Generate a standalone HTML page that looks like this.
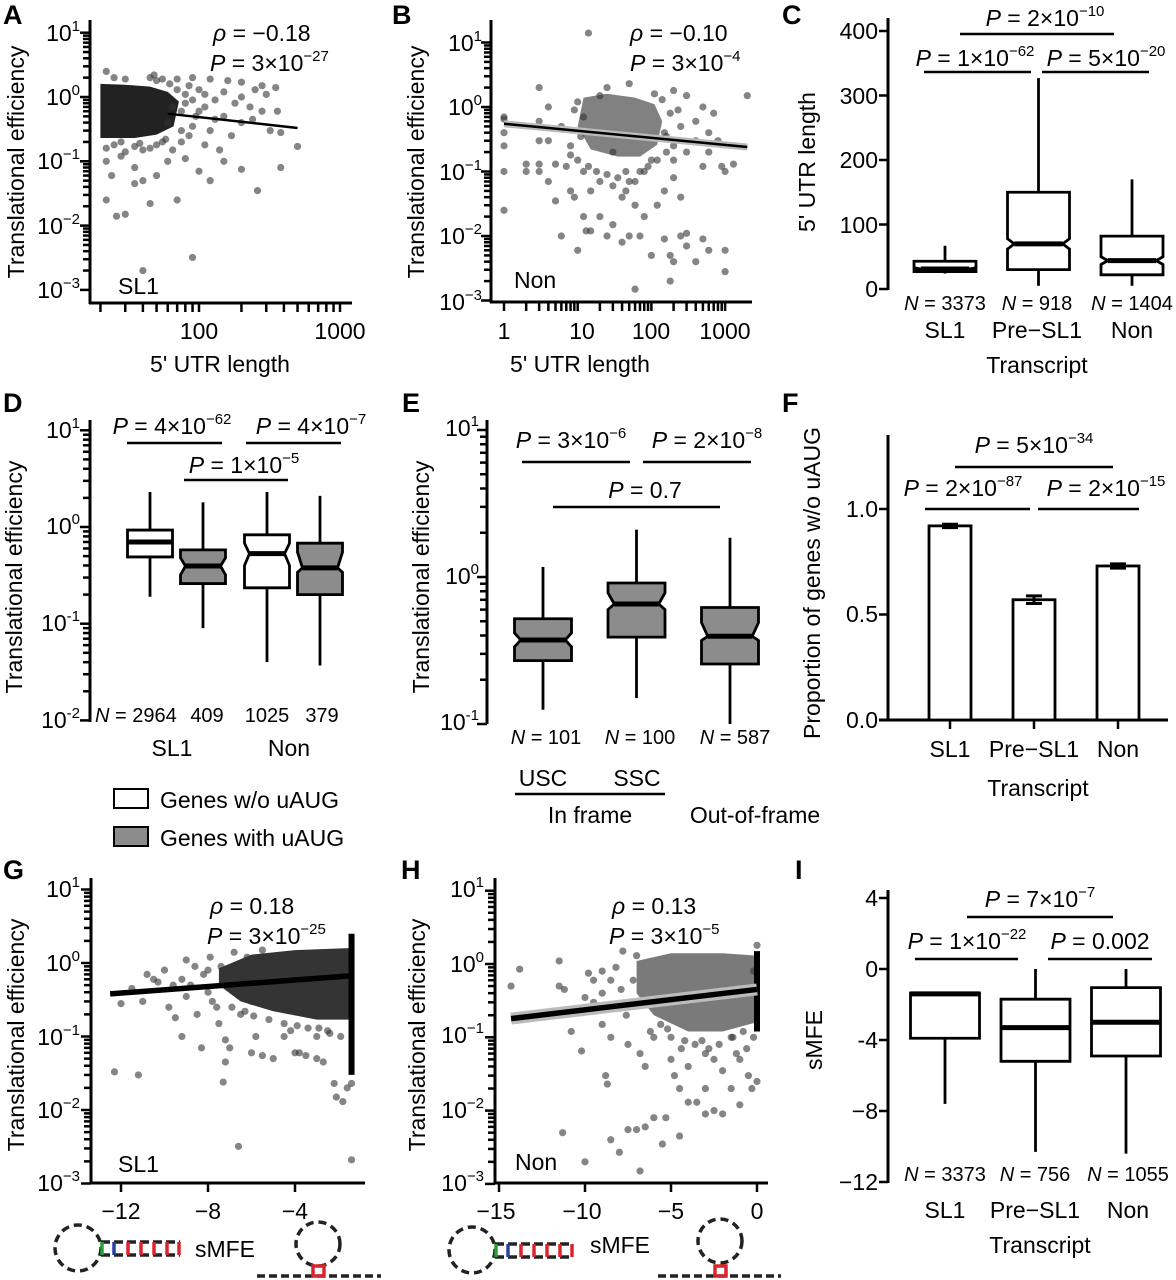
<!DOCTYPE html>
<html><head><meta charset="utf-8"><style>
html,body{margin:0;padding:0;background:#fff}
svg{display:block}
text{font-family:"Liberation Sans",Arial,sans-serif;fill:#000}
.t{font-size:23px}.s{font-size:20px}.b{font-size:27px;font-weight:bold}
.sup{font-size:15px}
</style></head><body>
<svg id="fig" width="1176" height="1280" viewBox="0 0 1176 1280" xmlns="http://www.w3.org/2000/svg">
<g id="txt">
<!-- Panel A -->
<text class="b" x="3" y="24">A</text>
<text class="t" x="80" y="41" text-anchor="end">10<tspan class="sup" dy="-10">1</tspan></text>
<text class="t" x="80" y="105" text-anchor="end">10<tspan class="sup" dy="-10">0</tspan></text>
<text class="t" x="80" y="169" text-anchor="end">10<tspan class="sup" dy="-10">−1</tspan></text>
<text class="t" x="80" y="234" text-anchor="end">10<tspan class="sup" dy="-10">−2</tspan></text>
<text class="t" x="80" y="298" text-anchor="end">10<tspan class="sup" dy="-10">−3</tspan></text>
<text class="t" x="199" y="339" text-anchor="middle">100</text>
<text class="t" x="340" y="339" text-anchor="middle">1000</text>
<text class="t" x="220" y="372" text-anchor="middle">5' UTR length</text>
<text class="t" transform="translate(24,162) rotate(-90)" text-anchor="middle">Translational efficiency</text>
<text class="t" x="213" y="41"><tspan font-style="italic">ρ</tspan> = −0.18</text>
<text class="t" x="210" y="71"><tspan font-style="italic">P</tspan> = 3×10<tspan class="sup" dy="-10">−27</tspan></text>
<text class="t" x="118" y="294">SL1</text>
<!-- Panel B -->
<text class="b" x="392" y="24">B</text>
<text class="t" x="482" y="51" text-anchor="end">10<tspan class="sup" dy="-10">1</tspan></text>
<text class="t" x="482" y="115" text-anchor="end">10<tspan class="sup" dy="-10">0</tspan></text>
<text class="t" x="482" y="180" text-anchor="end">10<tspan class="sup" dy="-10">−1</tspan></text>
<text class="t" x="482" y="244" text-anchor="end">10<tspan class="sup" dy="-10">−2</tspan></text>
<text class="t" x="482" y="310" text-anchor="end">10<tspan class="sup" dy="-10">−3</tspan></text>
<text class="t" x="504" y="339" text-anchor="middle">1</text>
<text class="t" x="582" y="339" text-anchor="middle">10</text>
<text class="t" x="651" y="339" text-anchor="middle">100</text>
<text class="t" x="725" y="339" text-anchor="middle">1000</text>
<text class="t" x="580" y="372" text-anchor="middle">5' UTR length</text>
<text class="t" transform="translate(424,162) rotate(-90)" text-anchor="middle">Translational efficiency</text>
<text class="t" x="630" y="41"><tspan font-style="italic">ρ</tspan> = −0.10</text>
<text class="t" x="630" y="71"><tspan font-style="italic">P</tspan> = 3×10<tspan class="sup" dy="-10">−4</tspan></text>
<text class="t" x="514" y="288">Non</text>
<!-- Panel C -->
<text class="b" x="782" y="24">C</text>
<text class="t" x="878" y="39" text-anchor="end">400</text>
<text class="t" x="878" y="104" text-anchor="end">300</text>
<text class="t" x="878" y="168" text-anchor="end">200</text>
<text class="t" x="878" y="233" text-anchor="end">100</text>
<text class="t" x="878" y="297" text-anchor="end">0</text>
<text class="t" x="1045" y="26" text-anchor="middle"><tspan font-style="italic">P</tspan> = 2×10<tspan class="sup" dy="-10">−10</tspan></text>
<text class="t" x="975" y="66" text-anchor="middle"><tspan font-style="italic">P</tspan> = 1×10<tspan class="sup" dy="-10">−62</tspan></text>
<text class="t" x="1106" y="66" text-anchor="middle"><tspan font-style="italic">P</tspan> = 5×10<tspan class="sup" dy="-10">−20</tspan></text>
<text class="t" transform="translate(815,162) rotate(-90)" text-anchor="middle">5' UTR length</text>
<text class="s" x="945" y="310" text-anchor="middle"><tspan font-style="italic">N</tspan> = 3373</text>
<text class="s" x="1037" y="310" text-anchor="middle"><tspan font-style="italic">N</tspan> = 918</text>
<text class="s" x="1132" y="310" text-anchor="middle"><tspan font-style="italic">N</tspan> = 1404</text>
<text class="t" x="945" y="338" text-anchor="middle">SL1</text>
<text class="t" x="1037" y="338" text-anchor="middle">Pre−SL1</text>
<text class="t" x="1132" y="338" text-anchor="middle">Non</text>
<text class="t" x="1037" y="373" text-anchor="middle">Transcript</text>
<!-- Panel D -->
<text class="b" x="3" y="412">D</text>
<text class="t" x="80" y="438" text-anchor="end">10<tspan class="sup" dy="-10">1</tspan></text>
<text class="t" x="80" y="534" text-anchor="end">10<tspan class="sup" dy="-10">0</tspan></text>
<text class="t" x="80" y="631" text-anchor="end">10<tspan class="sup" dy="-10">-1</tspan></text>
<text class="t" x="80" y="728" text-anchor="end">10<tspan class="sup" dy="-10">-2</tspan></text>
<text class="t" transform="translate(22,577) rotate(-90)" text-anchor="middle">Translational efficiency</text>
<text class="t" x="172" y="434" text-anchor="middle"><tspan font-style="italic">P</tspan> = 4×10<tspan class="sup" dy="-10">−62</tspan></text>
<text class="t" x="311" y="434" text-anchor="middle"><tspan font-style="italic">P</tspan> = 4×10<tspan class="sup" dy="-10">−7</tspan></text>
<text class="t" x="244" y="473" text-anchor="middle"><tspan font-style="italic">P</tspan> = 1×10<tspan class="sup" dy="-10">−5</tspan></text>
<text class="s" x="95" y="722"><tspan font-style="italic">N</tspan> = 2964</text>
<text class="s" x="207" y="722" text-anchor="middle">409</text>
<text class="s" x="267" y="722" text-anchor="middle">1025</text>
<text class="s" x="322" y="722" text-anchor="middle">379</text>
<text class="t" x="172" y="756" text-anchor="middle">SL1</text>
<text class="t" x="289" y="756" text-anchor="middle">Non</text>
<rect x="114" y="789" width="34" height="19" fill="#fff" stroke="#000" stroke-width="2"/>
<text class="t" x="160" y="808">Genes w/o uAUG</text>
<rect x="114" y="827" width="34" height="19" fill="#8c8c8c" stroke="#000" stroke-width="2"/>
<text class="t" x="160" y="846">Genes with uAUG</text>
<!-- Panel E -->
<text class="b" x="402" y="412">E</text>
<text class="t" x="479" y="436" text-anchor="end">10<tspan class="sup" dy="-10">1</tspan></text>
<text class="t" x="479" y="584" text-anchor="end">10<tspan class="sup" dy="-10">0</tspan></text>
<text class="t" x="479" y="730" text-anchor="end">10<tspan class="sup" dy="-10">-1</tspan></text>
<text class="t" transform="translate(429,577) rotate(-90)" text-anchor="middle">Translational efficiency</text>
<text class="t" x="571" y="448" text-anchor="middle"><tspan font-style="italic">P</tspan> = 3×10<tspan class="sup" dy="-10">−6</tspan></text>
<text class="t" x="707" y="448" text-anchor="middle"><tspan font-style="italic">P</tspan> = 2×10<tspan class="sup" dy="-10">−8</tspan></text>
<text class="t" x="645" y="498" text-anchor="middle"><tspan font-style="italic">P</tspan> = 0.7</text>
<text class="s" x="546" y="744" text-anchor="middle"><tspan font-style="italic">N</tspan> = 101</text>
<text class="s" x="640" y="744" text-anchor="middle"><tspan font-style="italic">N</tspan> = 100</text>
<text class="s" x="735" y="744" text-anchor="middle"><tspan font-style="italic">N</tspan> = 587</text>
<text class="t" x="543" y="786" text-anchor="middle">USC</text>
<text class="t" x="637" y="786" text-anchor="middle">SSC</text>
<line x1="515" y1="794" x2="665" y2="794" stroke="#000" stroke-width="2.5"/>
<text class="t" x="590" y="823" text-anchor="middle">In frame</text>
<text class="t" x="755" y="823" text-anchor="middle">Out-of-frame</text>
<!-- Panel F -->
<text class="b" x="782" y="412">F</text>
<text class="t" x="878" y="517" text-anchor="end">1.0</text>
<text class="t" x="878" y="622" text-anchor="end">0.5</text>
<text class="t" x="878" y="728" text-anchor="end">0.0</text>
<text class="t" transform="translate(820,583) rotate(-90)" text-anchor="middle">Proportion of genes w/o uAUG</text>
<text class="t" x="1034" y="453" text-anchor="middle"><tspan font-style="italic">P</tspan> = 5×10<tspan class="sup" dy="-10">−34</tspan></text>
<text class="t" x="963" y="496" text-anchor="middle"><tspan font-style="italic">P</tspan> = 2×10<tspan class="sup" dy="-10">−87</tspan></text>
<text class="t" x="1106" y="496" text-anchor="middle"><tspan font-style="italic">P</tspan> = 2×10<tspan class="sup" dy="-10">−15</tspan></text>
<text class="t" x="950" y="757" text-anchor="middle">SL1</text>
<text class="t" x="1034" y="757" text-anchor="middle">Pre−SL1</text>
<text class="t" x="1118" y="757" text-anchor="middle">Non</text>
<text class="t" x="1038" y="796" text-anchor="middle">Transcript</text>
<!-- Panel G -->
<text class="b" x="3" y="879">G</text>
<text class="t" x="80" y="897" text-anchor="end">10<tspan class="sup" dy="-10">1</tspan></text>
<text class="t" x="80" y="971" text-anchor="end">10<tspan class="sup" dy="-10">0</tspan></text>
<text class="t" x="80" y="1045" text-anchor="end">10<tspan class="sup" dy="-10">−1</tspan></text>
<text class="t" x="80" y="1118" text-anchor="end">10<tspan class="sup" dy="-10">−2</tspan></text>
<text class="t" x="80" y="1191" text-anchor="end">10<tspan class="sup" dy="-10">−3</tspan></text>
<text class="t" transform="translate(24,1035) rotate(-90)" text-anchor="middle">Translational efficiency</text>
<text class="t" x="210" y="914"><tspan font-style="italic">ρ</tspan> = 0.18</text>
<text class="t" x="207" y="944"><tspan font-style="italic">P</tspan> = 3×10<tspan class="sup" dy="-10">−25</tspan></text>
<text class="t" x="118" y="1172">SL1</text>
<text class="t" x="121" y="1219" text-anchor="middle">−12</text>
<text class="t" x="208" y="1219" text-anchor="middle">−8</text>
<text class="t" x="295" y="1219" text-anchor="middle">−4</text>
<text class="t" x="225" y="1257" text-anchor="middle">sMFE</text>
<!-- Panel H -->
<text class="b" x="401" y="879">H</text>
<text class="t" x="484" y="897" text-anchor="end">10<tspan class="sup" dy="-10">1</tspan></text>
<text class="t" x="484" y="972" text-anchor="end">10<tspan class="sup" dy="-10">0</tspan></text>
<text class="t" x="484" y="1043" text-anchor="end">10<tspan class="sup" dy="-10">−1</tspan></text>
<text class="t" x="484" y="1118" text-anchor="end">10<tspan class="sup" dy="-10">−2</tspan></text>
<text class="t" x="484" y="1191" text-anchor="end">10<tspan class="sup" dy="-10">−3</tspan></text>
<text class="t" transform="translate(425,1035) rotate(-90)" text-anchor="middle">Translational efficiency</text>
<text class="t" x="612" y="914"><tspan font-style="italic">ρ</tspan> = 0.13</text>
<text class="t" x="609" y="944"><tspan font-style="italic">P</tspan> = 3×10<tspan class="sup" dy="-10">−5</tspan></text>
<text class="t" x="515" y="1170">Non</text>
<text class="t" x="496" y="1219" text-anchor="middle">−15</text>
<text class="t" x="582" y="1219" text-anchor="middle">−10</text>
<text class="t" x="671" y="1219" text-anchor="middle">−5</text>
<text class="t" x="757" y="1219" text-anchor="middle">0</text>
<text class="t" x="620" y="1253" text-anchor="middle">sMFE</text>
<!-- Panel I -->
<text class="b" x="795" y="879">I</text>
<text class="t" x="878" y="906" text-anchor="end">4</text>
<text class="t" x="878" y="977" text-anchor="end">0</text>
<text class="t" x="878" y="1048" text-anchor="end">-4</text>
<text class="t" x="878" y="1119" text-anchor="end">−8</text>
<text class="t" x="878" y="1190" text-anchor="end">−12</text>
<text class="t" transform="translate(822,1040) rotate(-90)" text-anchor="middle">sMFE</text>
<text class="t" x="1040" y="907" text-anchor="middle"><tspan font-style="italic">P</tspan> = 7×10<tspan class="sup" dy="-10">−7</tspan></text>
<text class="t" x="967" y="949" text-anchor="middle"><tspan font-style="italic">P</tspan> = 1×10<tspan class="sup" dy="-10">−22</tspan></text>
<text class="t" x="1100" y="949" text-anchor="middle"><tspan font-style="italic">P</tspan> = 0.002</text>
<text class="s" x="945" y="1181" text-anchor="middle"><tspan font-style="italic">N</tspan> = 3373</text>
<text class="s" x="1035" y="1181" text-anchor="middle"><tspan font-style="italic">N</tspan> = 756</text>
<text class="s" x="1128" y="1181" text-anchor="middle"><tspan font-style="italic">N</tspan> = 1055</text>
<text class="t" x="945" y="1218" text-anchor="middle">SL1</text>
<text class="t" x="1035" y="1218" text-anchor="middle">Pre−SL1</text>
<text class="t" x="1128" y="1218" text-anchor="middle">Non</text>
<text class="t" x="1040" y="1253" text-anchor="middle">Transcript</text>
</g>
<!-- structure icons -->
<g stroke-width="3.5" fill="none">
<circle cx="78" cy="1248" r="23" stroke="#222" stroke-dasharray="8 5"/>
<line x1="101" y1="1242" x2="180" y2="1242" stroke="#222" stroke-dasharray="9 4"/>
<line x1="101" y1="1255" x2="180" y2="1255" stroke="#222" stroke-dasharray="9 4"/>
<line x1="102" y1="1242" x2="102" y2="1255" stroke="#2a9d3a"/>
<line x1="114" y1="1242" x2="114" y2="1255" stroke="#2b3fa0"/>
<line x1="128" y1="1242" x2="128" y2="1255" stroke="#d8262c"/>
<line x1="141" y1="1242" x2="141" y2="1255" stroke="#d8262c"/>
<line x1="154" y1="1242" x2="154" y2="1255" stroke="#d8262c"/>
<line x1="167" y1="1242" x2="167" y2="1255" stroke="#d8262c"/>
<line x1="179" y1="1242" x2="179" y2="1255" stroke="#d8262c"/>
</g>
<g stroke-width="3.5" fill="none">
<circle cx="318" cy="1244" r="22" stroke="#222" stroke-dasharray="8 5"/>
<line x1="257" y1="1276" x2="381" y2="1276" stroke="#222" stroke-dasharray="8 4"/>
<rect x="313" y="1266" width="11" height="10" stroke="#d8262c"/>
</g>
<g stroke-width="3.5" fill="none">
<circle cx="472" cy="1250" r="23" stroke="#222" stroke-dasharray="8 5"/>
<line x1="495" y1="1244" x2="573" y2="1244" stroke="#222" stroke-dasharray="9 4"/>
<line x1="495" y1="1257" x2="573" y2="1257" stroke="#222" stroke-dasharray="9 4"/>
<line x1="496" y1="1244" x2="496" y2="1257" stroke="#2a9d3a"/>
<line x1="508" y1="1244" x2="508" y2="1257" stroke="#2b3fa0"/>
<line x1="521" y1="1244" x2="521" y2="1257" stroke="#d8262c"/>
<line x1="534" y1="1244" x2="534" y2="1257" stroke="#d8262c"/>
<line x1="547" y1="1244" x2="547" y2="1257" stroke="#d8262c"/>
<line x1="560" y1="1244" x2="560" y2="1257" stroke="#d8262c"/>
<line x1="572" y1="1244" x2="572" y2="1257" stroke="#d8262c"/>
</g>
<g stroke-width="3.5" fill="none">
<circle cx="720" cy="1241" r="22" stroke="#222" stroke-dasharray="8 5"/>
<line x1="658" y1="1276" x2="781" y2="1276" stroke="#222" stroke-dasharray="8 4"/>
<rect x="715" y="1266" width="11" height="10" stroke="#d8262c"/>
</g>
</svg>
<script>
// ---------- DATA ----------
const aPtsX=[22,25,30,45,55,70,90,120,160,200,280,350,250,300,200,150,110,130,180,230,280,360,240,320,380,200,150,100,80,90,120,170,500,380,260,200,150,120,100,80,70,60,50,45,40,35,30,26,24,22,22,28,35,90,40,65,75,110,140,60,70,85,100,65,75,90,80,95,110,130,55,50,45,40,35,30,25,22,28,38,50,62,75,85,58,48];
const aPtsY=[2.5,2,1.9,2,1.9,1.9,2,1.9,1.8,1.7,1.5,1.4,1.3,1.1,1.0,1.2,1.1,0.9,0.8,0.7,0.6,0.6,0.45,0.3,0.28,0.4,0.5,0.6,0.8,0.35,0.3,0.25,0.17,0.08,0.035,0.075,0.1,0.05,0.07,0.11,0.025,0.1,0.06,0.022,0.05,0.045,0.015,0.014,0.06,0.025,0.1,0.12,0.08,0.0032,0.002,0.15,0.2,0.18,0.15,0.4,1.3,1.5,1.3,0.7,0.6,0.9,1.1,0.5,0.7,0.45,0.2,0.18,0.16,0.15,0.17,0.14,0.18,0.16,0.2,0.19,1.8,1.6,0.3,0.25,0.22,2.2];
const aCoreX=[20,30,45,60,72,66,50,35,20];
const aCoreY=[1.6,1.55,1.45,1.2,0.85,0.35,0.26,0.23,0.23];
const aFitX=[60,500], aFitY=[0.55,0.33];

const bPtsX=[14,1,1,1,1,1,1,3,3,3,3,3,2,2,4,4,4,5,5,6,7,8,9,10,12,13,15,20,25,30,40,50,60,70,80,100,150,180,200,180,250,300,300,400,500,600,1000,1000,2000,1300,1000,900,600,500,400,700,500,300,200,50,25,150,200,250,120,60,40,30,20,15,10,12,300,200,400,600,800,250,150,100,80,60,45,8,6,10,20,9,11,14,18,25,35,50,70,90,120,160,180,140,110,160,200,230,8,12,30,45];
const bPtsY=[14,0.7,0.65,0.4,0.25,0.1,0.025,2,0.6,0.3,0.13,0.1,0.13,0.1,1,0.3,0.07,0.13,0.035,0.01,0.12,0.05,0.04,0.006,0.02,0.012,0.012,0.02,0.01,0.015,0.008,0.01,0.0015,0.01,0.02,0.005,0.009,0.005,0.004,0.002,0.01,0.007,0.011,0.004,0.009,0.006,0.006,0.0028,1.5,0.13,0.1,0.12,0.2,0.12,0.3,0.8,1,1.5,1.8,2.3,2,0.05,0.08,0.04,0.03,0.03,0.04,0.06,0.07,0.05,0.15,0.1,0.2,0.15,0.6,0.4,0.3,0.5,0.4,0.15,0.1,0.07,0.05,0.25,0.5,1.2,1.5,0.9,0.35,0.12,0.1,0.09,0.08,0.07,0.1,0.12,0.15,0.2,0.8,1.3,1.6,0.35,0.25,0.9,0.18,0.7,0.2,0.1,0.12];
const bCoreX=[12,25,60,110,140,120,70,35,15,10];
const bCoreY=[1.4,1.6,1.4,1.1,0.6,0.26,0.17,0.17,0.22,0.5];
const bFitX=[1,2000], bFitY=[0.55,0.24];

const cCats=['SL1','Pre-SL1','Non'];
const cLo=[24,5,5], cQ1=[27,30,22], cMed=[31,70,44], cQ3=[43,150,82], cHi=[67,327,170];
const cNotchLo=[29,62,38], cNotchHi=[33,78,50];

const dLo=[0.19,0.09,0.04,0.037], dQ1=[0.49,0.26,0.235,0.2], dMed=[0.70,0.395,0.53,0.378], dQ3=[0.93,0.58,0.83,0.68], dHi=[2.3,1.8,2.3,2.1];
const dNotchLo=[0.70,0.32,0.40,0.34], dNotchHi=[0.70,0.48,0.68,0.55];
const dHasUAUG=[false,true,false,true];

const eCats=['USC','SSC','Out-of-frame'];
const eLo=[0.125,0.15,0.1], eQ1=[0.27,0.39,0.256], eMed=[0.373,0.655,0.395], eQ3=[0.52,0.91,0.62], eHi=[1.17,2.1,1.85];
const eNotchLo=[0.335,0.60,0.37], eNotchHi=[0.416,0.78,0.49];

const fCats=['SL1','Pre-SL1','Non'];
const fVals=[0.92,0.57,0.73], fErr=[0.008,0.018,0.01];

const gPtsX=[-12.3,-11.2,-12,-11.5,-11,-10.8,-10.5,-10,-9.8,-9.5,-9.2,-9,-8.8,-8.5,-8.3,-8,-7.8,-7.5,-7.3,-7.2,-7.2,-7,-6.8,-6.5,-6.6,-6,-5.8,-5.5,-5,-4.5,-4,-3.8,-3.5,-3,-2.7,-2.2,-2.1,-1.8,-1.6,-1.4,-1.4,-5,-4.5,-3,-2.5,-9.6,-9.2,-8,-7,-6.5,-6,-6.2,-5.5,-10.3,-9,-7.6,-8.6,-8.2,-7.9,-7.4,-6.9,-4.2,-3.4,-2.4,-1.9,-5.2,-3.9,-2.9,-6.3,-5.9];
const gPtsY=[0.033,0.03,0.28,0.45,0.3,0.7,0.6,0.8,0.25,0.18,0.1,1.1,0.5,0.2,0.07,0.8,0.3,0.15,0.024,0.09,0.045,0.07,1.4,0.2,0.0032,0.06,0.1,0.055,0.05,0.1,0.06,0.06,0.055,0.05,0.045,0.023,0.015,0.013,0.02,0.023,0.0021,0.25,0.15,0.1,0.12,0.5,0.6,0.4,0.5,0.6,0.3,1.2,1.5,0.55,0.35,0.25,0.9,0.7,1.2,0.9,0.25,0.12,0.13,0.11,0.1,0.17,0.14,0.13,0.22,0.19];
const gCoreX=[-7.5,-6,-4,-1.4,-1.4,-3,-5,-6.5,-7.5];
const gCoreY=[0.85,1.3,1.5,1.6,0.17,0.17,0.22,0.3,0.5];
const gColX=[-1.4,-1.4], gColY=[2.5,0.03];
const gFitX=[-12.5,-1.4], gFitY=[0.38,0.67];

const hPtsX=[-14.3,-13.8,-11.5,-11.5,-11.2,-10.8,-11.3,-10.2,-10,-9.8,-9.5,-9,-8.8,-8.7,-8.5,-8,-7.5,-7,-6.8,-6.5,-6,-5.5,-5.3,-4.5,-4.5,-4,-3.5,-3,-2.5,-2,-1.5,-1,-0.5,-0.3,0,-5,-4.8,-3,-2,-1,-6.5,-7.5,-8.5,-7.8,-7,-8.5,-9,-10,-6,-5,-3,-2.5,-1.5,-8,-6.8,-4,-0.2,0,-0.2,-9.5,-9,-8.2,-7.2,-6.6,-5.6,-4.4,-3.6,-2.8,-1.2,-0.6,-7.6,-6.2,-5.2,-4.2,-3.2,-2.2,-1.4,-0.8,-8.8,-7.9];
const hPtsY=[0.5,0.85,1.1,0.5,0.45,0.12,0.005,0.065,0.002,0.75,0.3,0.15,0.03,0.023,0.004,0.0027,0.0055,0.0055,0.0015,0.006,0.008,0.0035,0.008,0.0045,0.02,0.013,0.013,0.009,0.01,0.009,0.02,0.05,0.03,0.02,0.025,0.05,0.03,0.02,0.035,0.012,0.04,0.08,0.1,1.5,1.3,0.6,0.4,0.35,0.1,0.1,0.06,0.05,0.1,0.25,0.06,0.04,0.1,1.8,0.8,0.6,0.8,0.9,0.6,0.3,0.15,0.07,0.08,0.07,0.06,0.07,0.2,0.12,0.13,0.09,0.09,0.08,0.1,0.12,0.25,0.45];
const hCoreX=[-7,-5,-2,0,0,-2,-4,-6,-7];
const hCoreY=[1.1,1.4,1.4,1.3,0.16,0.12,0.12,0.2,0.4];
const hColX=[0,0], hColY=[1.5,0.12];
const hFitX=[-14.3,0], hFitY=[0.18,0.45];

const iCats=['SL1','Pre-SL1','Non'];
const iLo=[-7.6,-10.3,-10.4], iQ1=[-3.9,-5.2,-4.9], iMed=[-1.4,-3.3,-3.0], iQ3=[-1.35,-1.7,-1.05], iHi=[-1.35,0,0];

// ---------- SCALES ----------
const L=Math.log10;
const yA=v=>97-64.3*L(v), xA=v=>199+141*L(v/100);
const yB=v=>107-64.5*L(v), xB=v=>504+73.7*L(v);
const yC=v=>289-0.645*v, xC=i=>945+i*93.5;
const yD=v=>527-96.7*L(v), xD=i=>150+Math.floor(i/2)*117+(i%2)*53;
const yE=v=>577-147*L(v), xE=i=>543+i*93.5;
const yF=v=>720-211*v, xF=i=>950+i*84;
const yG=v=>963-73.5*L(v), xG=v=>121+21.75*(v+12);
const yH=v=>964-73.3*L(v), xH=v=>757+17.2*v;
const yI=v=>969-17.75*v, xI=i=>945+i*90.5;

const NS='http://www.w3.org/2000/svg';
const svg=document.getElementById('fig');
function mk(tag,attrs){const e=document.createElementNS(NS,tag);for(const k in attrs)e.setAttribute(k,attrs[k]);svg.appendChild(e);return e;}
function ln(x1,y1,x2,y2,w){return mk('line',{x1,y1,x2,y2,stroke:'#000','stroke-width':w||2.5});}

// ---------- AXES ----------
function logYAxis(x,ys,lo,hi,top,bot,p){
  const a=ln(x,top,x,bot,3);
  
  
  for(let d=lo;d<=hi;d++){for(let m=1;m<=9;m++){const v=m*Math.pow(10,d);if(d===hi&&m>1)break;
    const t=ln(x-(m===1?10:7),ys(v),x,ys(v),2.5);
    
    }}
}
function linYAxis(x,ys,vals,top,bot,p){
  const a=ln(x,top,x,bot,3);
  
  
  vals.forEach(v=>{const t=ln(x-9,ys(v),x,ys(v),2.5);
    
    });
}
function xAxis(y,x1,x2,xs,vals,p){
  const a=ln(x1,y,x2,y,3);
  
  
  vals.forEach(v=>{const t=ln(xs(v),y,xs(v),y+9,2.5);
    
    });
}
logYAxis(90,yA,-3,1,20,304,'a');
xAxis(303,89,352,xA,[20,30,40,50,60,70,80,90,100,200,300,400,500,600,700,800,900,1000],'a');
logYAxis(491,yB,-3,1,20,303,'b');
xAxis(302,490,752,xB,[1,2,3,4,5,6,7,8,9,10,20,30,40,50,60,70,80,90,100,200,300,400,500,600,700,800,900,1000],'b');
linYAxis(888,yC,[0,100,200,300,400],18,290,'c');
logYAxis(90,yD,-2,1,420,722,'d');
logYAxis(487,yE,-1,1,420,724,'e');
linYAxis(888,yF,[0,0.5,1.0],435,720,'f');
xAxis(720,879,1168,xF,[0,1,2],'f');
logYAxis(91,yG,-3,1,878,1184,'g');
xAxis(1183,90,365,xG,[-12,-8,-4],'g');
logYAxis(495,yH,-3,1,878,1184,'h');
xAxis(1183,494,768,xH,[-15,-10,-5,0],'h');
linYAxis(888,yI,[4,0,-4,-8,-12],890,1183,'i');

// ---------- SCATTER ----------
function poly(xs,ys,X,Y,fill,op,name){
  let d='';X.forEach((v,i)=>{d+=(i?'L':'M')+xs(v).toFixed(1)+','+ys(Y[i]).toFixed(1);});
  const p=mk('path',{d:d+'Z',fill,'fill-opacity':op,stroke:'none'});
  
  
}
function pts(xs,ys,X,Y,p){
  X.forEach((v,i)=>{const c=mk('circle',{cx:xs(v),cy:ys(Y[i]),r:3.6,fill:'#333','fill-opacity':0.6});
    
    });
}
function fit(xs,ys,X,Y,w,band,name){
  if(band){const b=ln(xs(X[0]),ys(Y[0]),xs(X[1]),ys(Y[1]),band);b.setAttribute('stroke','#bbb');
    
    }
  const l=ln(xs(X[0]),ys(Y[0]),xs(X[1]),ys(Y[1]),w);
  
  
}
poly(xA,yA,aCoreX,aCoreY,'#111',0.93,'a-dense-core');
pts(xA,yA,aPtsX,aPtsY,'a');
fit(xA,yA,aFitX,aFitY,2.5,0,'a-regression-line');
poly(xB,yB,bCoreX,bCoreY,'#333',0.62,'b-dense-core');
pts(xB,yB,bPtsX,bPtsY,'b');
fit(xB,yB,bFitX,bFitY,2.5,7,'b-regression-line');
poly(xG,yG,gCoreX,gCoreY,'#111',0.85,'g-dense-core');
pts(xG,yG,gPtsX,gPtsY,'g');
fit(xG,yG,gColX,gColY,6,0,'g-column-points');
fit(xG,yG,gFitX,gFitY,5.5,0,'g-regression-line');
poly(xH,yH,hCoreX,hCoreY,'#222',0.6,'h-dense-core');
pts(xH,yH,hPtsX,hPtsY,'h');
fit(xH,yH,hColX,hColY,6,0,'h-column-points');
fit(xH,yH,hFitX,hFitY,5.5,12,'h-regression-line');

// ---------- BOXPLOTS ----------
function box(cx,hw,ys,lo,q1,med,q3,hi,nlo,nhi,fill,p){
  const w1=ln(cx,ys(hi),cx,ys(q3),2.8);
  
  
  const w2=ln(cx,ys(q1),cx,ys(lo),2.8);
  
  
  const ind=(nlo!==nhi)?hw*0.22:0;
  const L0=cx-hw,R0=cx+hw;
  const d=`M${L0},${ys(q3)}H${R0}V${ys(nhi)}L${R0-ind},${ys(med)}L${R0},${ys(nlo)}V${ys(q1)}H${L0}V${ys(nlo)}L${L0+ind},${ys(med)}L${L0},${ys(nhi)}Z`;
  const b=mk('path',{d,fill,stroke:'#000','stroke-width':2.8,'stroke-linejoin':'miter'});
  
  
  const m=ln(L0+ind,ys(med),R0-ind,ys(med),5);
  
  
}
cCats.forEach((c,i)=>box(xC(i),31,yC,cLo[i],cQ1[i],cMed[i],cQ3[i],cHi[i],cNotchLo[i],cNotchHi[i],'#fff','c-'+i));
dLo.forEach((_,i)=>box(xD(i),22.5,yD,dLo[i],dQ1[i],dMed[i],dQ3[i],dHi[i],dNotchLo[i],dNotchHi[i],dHasUAUG[i]?'#8c8c8c':'#fff','d-'+i));
eCats.forEach((c,i)=>box(xE(i),28.5,yE,eLo[i],eQ1[i],eMed[i],eQ3[i],eHi[i],eNotchLo[i],eNotchHi[i],'#8c8c8c','e-'+i));
iCats.forEach((c,i)=>box(xI(i),34.5,yI,iLo[i],iQ1[i],iMed[i],iQ3[i],iHi[i],iMed[i],iMed[i],'#fff','i-'+i));

// ---------- BARS (F) ----------
fCats.forEach((c,i)=>{
  const r=mk('rect',{x:xF(i)-21,y:yF(fVals[i]),width:42,height:yF(0)-yF(fVals[i]),fill:'#fff',stroke:'#000','stroke-width':2.8});
  
  
  const e=mk('path',{d:`M${xF(i)-8},${yF(fVals[i]+fErr[i])}H${xF(i)+8}M${xF(i)},${yF(fVals[i]+fErr[i])}V${yF(fVals[i]-fErr[i])}M${xF(i)-8},${yF(fVals[i]-fErr[i])}H${xF(i)+8}`,stroke:'#000','stroke-width':3,fill:'none'});
  
  
});

// ---------- SIGNIFICANCE BRACKETS ----------
function br(x1,x2,y,name){const l=ln(x1,y,x2,y,2.5);
  
  }
br(960,1114,34,'c-bracket-top');br(924,1031,72,'c-bracket-left');br(1042,1149,72,'c-bracket-right');
br(127,222,443,'d-bracket-left');br(246,341,443,'d-bracket-right');br(184,288,480,'d-bracket-mid');
br(522,630,462,'e-bracket-left');br(643,751,462,'e-bracket-right');br(553,720,507,'e-bracket-mid');
br(955,1113,467,'f-bracket-top');br(925,1030,509,'f-bracket-left');br(1038,1139,509,'f-bracket-right');
br(967,1113,917,'i-bracket-top');br(915,1018,959,'i-bracket-left');br(1048,1152,959,'i-bracket-right');
svg.appendChild(document.getElementById('txt'));
</script>
</body></html>
